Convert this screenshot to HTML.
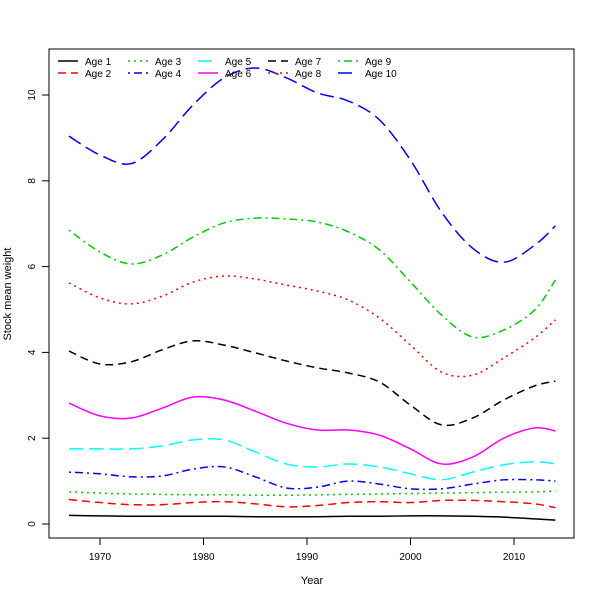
<!DOCTYPE html>
<html><head><meta charset="utf-8"><style>
body{margin:0;background:#fff}
svg{font-family:"Liberation Sans",sans-serif;display:block}
</style></head><body>
<svg id="chart" width="600" height="600" viewBox="0 0 600 600">
<rect x="0" y="0" width="600" height="600" fill="#fff"/>
<rect x="49" y="49" width="525" height="489" fill="none" stroke="#000" stroke-width="1"/>
<g id="axes"></g>
<g id="series"></g>
<g id="legend"></g>
<text x="312" y="584" font-size="11" text-anchor="middle">Year</text>
<text x="11" y="294" font-size="11" text-anchor="middle" transform="rotate(-90 11 294)">Stock mean weight</text>
</svg>
<script>
const years=[1967,1970,1973,1976,1979,1982,1985,1988,1991,1994,1997,2000,2003,2006,2009,2012,2014];
const age1=[0.2,0.19,0.18,0.18,0.18,0.18,0.17,0.17,0.17,0.18,0.18,0.19,0.19,0.18,0.16,0.12,0.09];
const age2=[0.57,0.5,0.45,0.45,0.5,0.52,0.47,0.4,0.43,0.5,0.52,0.5,0.55,0.55,0.52,0.47,0.38];
const age3=[0.75,0.72,0.7,0.69,0.68,0.68,0.67,0.67,0.68,0.69,0.7,0.71,0.72,0.73,0.74,0.75,0.77];
const age4=[1.21,1.17,1.1,1.12,1.28,1.33,1.1,0.84,0.86,1.0,0.93,0.82,0.82,0.93,1.03,1.03,1.0];
const age5=[1.75,1.75,1.75,1.82,1.96,1.96,1.68,1.4,1.33,1.4,1.33,1.17,1.03,1.21,1.38,1.45,1.4];
const age6=[2.82,2.52,2.47,2.7,2.96,2.89,2.63,2.35,2.19,2.19,2.07,1.75,1.4,1.56,2.0,2.24,2.17];
const age7=[4.03,3.73,3.78,4.06,4.27,4.17,3.99,3.8,3.64,3.52,3.31,2.77,2.31,2.47,2.89,3.22,3.33];
const age8=[5.62,5.27,5.13,5.31,5.64,5.78,5.71,5.57,5.43,5.22,4.8,4.17,3.54,3.47,3.87,4.34,4.76];
const age9=[6.85,6.34,6.06,6.27,6.69,7.02,7.13,7.11,7.04,6.81,6.39,5.64,4.87,4.36,4.52,4.99,5.69];
const age10=[9.04,8.6,8.4,8.95,9.77,10.4,10.63,10.4,10.05,9.86,9.42,8.48,7.27,6.43,6.1,6.5,6.95];
const xTicks=[1970,1980,1990,2000,2010];
const yTicks=[0,2,4,6,8,10];
const seriesNames=["Age 1","Age 2","Age 3","Age 4","Age 5","Age 6","Age 7","Age 8","Age 9","Age 10"];

const allSeries=[age1,age2,age3,age4,age5,age6,age7,age8,age9,age10];
const colors=["#000","#f00","#0c0","#00f","#0ff","#f0f","#000","#f00","#0c0","#00f"];
const dashes=["","8,5","2,4","2,4,8,4","14,6","","8,5","2,4","2,4,8,4","14,6"];
const NS="http://www.w3.org/2000/svg";
const xs=yr=>100+(yr-1970)*10.35;
const ys=v=>524-v*42.9;
function mk(tag,attrs,parent){const e=document.createElementNS(NS,tag);for(const k in attrs)e.setAttribute(k,attrs[k]);parent.appendChild(e);return e;}
const axes=document.getElementById('axes');
mk('line',{x1:xs(xTicks[0]),x2:xs(xTicks[xTicks.length-1]),y1:538,y2:538,stroke:'#000'},axes);
xTicks.forEach(t=>{
 const l=mk('line',{x1:xs(t),x2:xs(t),y1:538,y2:545,stroke:'#000'},axes);
 
 
 const tx=mk('text',{x:xs(t),y:560,'font-size':10,'text-anchor':'middle'},axes);tx.textContent=t;
 
 
});
mk('line',{x1:49,x2:49,y1:ys(yTicks[0]),y2:ys(yTicks[yTicks.length-1]),stroke:'#000'},axes);
yTicks.forEach(t=>{
 const l=mk('line',{x1:42,x2:49,y1:ys(t),y2:ys(t),stroke:'#000'},axes);
 
 
 const tx=mk('text',{x:35,y:ys(t),'font-size':10,'text-anchor':'middle',transform:`rotate(-90 35 ${ys(t)})`},axes);tx.textContent=t;
 
 
});
function pathFor(vals){
 const p=vals.map((v,i)=>[xs(years[i]),ys(v)]);
 let d=`M${p[0][0]},${p[0][1]}`;
 for(let i=0;i<p.length-1;i++){
  const p0=p[Math.max(i-1,0)],p1=p[i],p2=p[i+1],p3=p[Math.min(i+2,p.length-1)];
  const c1=[p1[0]+(p2[0]-p0[0])/6,p1[1]+(p2[1]-p0[1])/6];
  const c2=[p2[0]-(p3[0]-p1[0])/6,p2[1]-(p3[1]-p1[1])/6];
  d+=` C${c1[0]},${c1[1]} ${c2[0]},${c2[1]} ${p2[0]},${p2[1]}`;
 }
 return d;
}
const sg=document.getElementById('series');
allSeries.forEach((s,i)=>{
 const path=mk('path',{d:pathFor(s),fill:'none',stroke:colors[i],'stroke-width':1.5,'stroke-dasharray':dashes[i]},sg);
 
 
});
const lg=document.getElementById('legend');
seriesNames.forEach((n,i)=>{
 const col=Math.floor(i/2),row=i%2;
 const x=58+col*70,y=61+row*12;
 const l=mk('line',{x1:x,x2:x+20,y1:y,y2:y,stroke:colors[i],'stroke-width':1.5,'stroke-dasharray':dashes[i]},lg);
 
 
 const t=mk('text',{x:x+27,y:y+4,'font-size':10},lg);t.textContent=n;
 
 
});
</script>
</body></html>
